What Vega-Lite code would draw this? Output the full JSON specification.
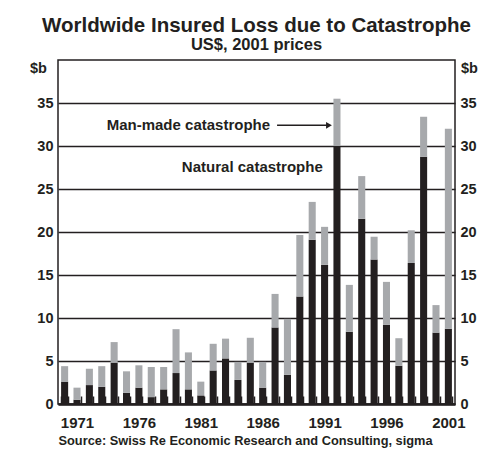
{
  "$schema": "https://vega.github.io/schema/vega-lite/v6.json",
  "autosize": {"type": "none"},
  "width": 397,
  "height": 344,
  "padding": {"left": 58, "top": 60, "right": 44, "bottom": 47},
  "background": "white",
  "title": {
    "text": "Worldwide Insured Loss due to Catastrophe",
    "subtitle": "US$, 2001 prices",
    "font": "Liberation Sans",
    "subtitleFont": "Liberation Sans",
    "fontSize": 20.5,
    "subtitleFontSize": 16.5,
    "fontWeight": "bold",
    "subtitleFontWeight": "bold",
    "color": "#231f20",
    "subtitleColor": "#231f20",
    "anchor": "middle",
    "offset": 7,
    "subtitlePadding": 0
  },
  "config": {
    "font": "Liberation Sans",
    "view": {"stroke": "#231f20", "strokeWidth": 1.5},
    "axisX": {
      "labelAngle": 0,
      "labelExpr": "(datum.value - 1971) % 5 == 0 ? datum.label : ''",
      "labelOverlap": false,
      "labelFontSize": 15,
      "labelFontWeight": "bold",
      "labelColor": "#231f20",
      "labelPadding": 19,
      "tickBand": "extent",
      "tickSize": -8,
      "tickColor": "#231f20",
      "tickWidth": 1.5,
      "domainColor": "#231f20",
      "domainWidth": 2.5,
      "titleAnchor": "start",
      "titleFontSize": 12.8,
      "titleFontWeight": "bold",
      "titleColor": "#231f20",
      "titlePadding": 4
    }
  },
  "datasets": {
    "losses": [
      {"year": 1970, "type": "Natural", "loss": 2.6}, {"year": 1970, "type": "Man-made", "loss": 1.8},
      {"year": 1971, "type": "Natural", "loss": 0.5}, {"year": 1971, "type": "Man-made", "loss": 1.4},
      {"year": 1972, "type": "Natural", "loss": 2.2}, {"year": 1972, "type": "Man-made", "loss": 1.9},
      {"year": 1973, "type": "Natural", "loss": 2.0}, {"year": 1973, "type": "Man-made", "loss": 2.4},
      {"year": 1974, "type": "Natural", "loss": 4.8}, {"year": 1974, "type": "Man-made", "loss": 2.4},
      {"year": 1975, "type": "Natural", "loss": 1.3}, {"year": 1975, "type": "Man-made", "loss": 2.5},
      {"year": 1976, "type": "Natural", "loss": 1.9}, {"year": 1976, "type": "Man-made", "loss": 2.6},
      {"year": 1977, "type": "Natural", "loss": 0.8}, {"year": 1977, "type": "Man-made", "loss": 3.5},
      {"year": 1978, "type": "Natural", "loss": 1.7}, {"year": 1978, "type": "Man-made", "loss": 2.6},
      {"year": 1979, "type": "Natural", "loss": 3.6}, {"year": 1979, "type": "Man-made", "loss": 5.1},
      {"year": 1980, "type": "Natural", "loss": 1.7}, {"year": 1980, "type": "Man-made", "loss": 4.3},
      {"year": 1981, "type": "Natural", "loss": 1.0}, {"year": 1981, "type": "Man-made", "loss": 1.6},
      {"year": 1982, "type": "Natural", "loss": 3.9}, {"year": 1982, "type": "Man-made", "loss": 3.1},
      {"year": 1983, "type": "Natural", "loss": 5.3}, {"year": 1983, "type": "Man-made", "loss": 2.3},
      {"year": 1984, "type": "Natural", "loss": 2.8}, {"year": 1984, "type": "Man-made", "loss": 2.1},
      {"year": 1985, "type": "Natural", "loss": 4.8}, {"year": 1985, "type": "Man-made", "loss": 2.9},
      {"year": 1986, "type": "Natural", "loss": 1.9}, {"year": 1986, "type": "Man-made", "loss": 3.0},
      {"year": 1987, "type": "Natural", "loss": 8.9}, {"year": 1987, "type": "Man-made", "loss": 3.9},
      {"year": 1988, "type": "Natural", "loss": 3.4}, {"year": 1988, "type": "Man-made", "loss": 6.5},
      {"year": 1989, "type": "Natural", "loss": 12.5}, {"year": 1989, "type": "Man-made", "loss": 7.15},
      {"year": 1990, "type": "Natural", "loss": 19.1}, {"year": 1990, "type": "Man-made", "loss": 4.4},
      {"year": 1991, "type": "Natural", "loss": 16.2}, {"year": 1991, "type": "Man-made", "loss": 4.4},
      {"year": 1992, "type": "Natural", "loss": 30.0}, {"year": 1992, "type": "Man-made", "loss": 5.5},
      {"year": 1993, "type": "Natural", "loss": 8.4}, {"year": 1993, "type": "Man-made", "loss": 5.45},
      {"year": 1994, "type": "Natural", "loss": 21.55}, {"year": 1994, "type": "Man-made", "loss": 4.95},
      {"year": 1995, "type": "Natural", "loss": 16.8}, {"year": 1995, "type": "Man-made", "loss": 2.65},
      {"year": 1996, "type": "Natural", "loss": 9.2}, {"year": 1996, "type": "Man-made", "loss": 5.0},
      {"year": 1997, "type": "Natural", "loss": 4.45}, {"year": 1997, "type": "Man-made", "loss": 3.2},
      {"year": 1998, "type": "Natural", "loss": 16.4}, {"year": 1998, "type": "Man-made", "loss": 3.8},
      {"year": 1999, "type": "Natural", "loss": 28.75}, {"year": 1999, "type": "Man-made", "loss": 4.65},
      {"year": 2000, "type": "Natural", "loss": 8.3}, {"year": 2000, "type": "Man-made", "loss": 3.2},
      {"year": 2001, "type": "Natural", "loss": 8.75}, {"year": 2001, "type": "Man-made", "loss": 23.25}
    ]
  },
  "layer": [
    {
      "data": {"name": "losses"},
      "mark": {"type": "bar"},
      "encoding": {
        "x": {"field": "year", "type": "ordinal", "title": "Source: Swiss Re Economic Research and Consulting, sigma", "scale": {"paddingInner": 0.43, "paddingOuter": 0.25}},
        "y": {
          "field": "loss", "type": "quantitative", "stack": "zero",
          "scale": {"domain": [0, 40], "nice": false},
          "axis": {
            "orient": "left",
            "values": [0, 5, 10, 15, 20, 25, 30, 35],
            "title": "$b", "titleAngle": 0, "titleX": -20, "titleY": 12,
            "titleAlign": "center", "titleBaseline": "alphabetic",
            "titleFontSize": 14.5, "titleFontWeight": "bold", "titleColor": "#231f20",
            "labelFontSize": 14.5, "labelFontWeight": "bold", "labelColor": "#231f20",
            "labelPadding": 5, "ticks": false, "domain": false,
            "grid": true, "gridColor": "#231f20", "gridWidth": 1.5
          }
        },
        "color": {"field": "type", "type": "nominal", "scale": {"domain": ["Natural", "Man-made"], "range": ["#231f20", "#a7a9ac"]}, "legend": null},
        "order": {"field": "type", "sort": "descending"}
      }
    },
    {
      "data": {"values": [{"year": 1985, "loss": 27.6, "label": "Natural catastrophe"}]},
      "mark": {"type": "text", "align": "center", "baseline": "middle", "fontSize": 15, "fontWeight": "bold", "color": "#231f20", "dx": 2},
      "encoding": {
        "x": {"field": "year", "type": "ordinal", "title": "Source: Swiss Re Economic Research and Consulting, sigma"},
        "y": {
          "field": "loss", "type": "quantitative",
          "axis": {
            "orient": "right",
            "values": [0, 5, 10, 15, 20, 25, 30, 35],
            "title": "$b", "titleAngle": 0, "titleX": 14, "titleY": 12,
            "titleAlign": "center", "titleBaseline": "alphabetic",
            "titleFontSize": 14.5, "titleFontWeight": "bold", "titleColor": "#231f20",
            "labelFontSize": 14.5, "labelFontWeight": "bold", "labelColor": "#231f20",
            "labelPadding": 5, "ticks": false, "domain": false, "grid": false
          }
        },
        "text": {"field": "label"}
      }
    },
    {
      "data": {"values": [{"year": 1987, "loss": 32.4, "label": "Man-made catastrophe"}]},
      "mark": {"type": "text", "align": "right", "baseline": "middle", "fontSize": 15, "fontWeight": "bold", "color": "#231f20", "dx": -5},
      "encoding": {
        "x": {"field": "year", "type": "ordinal", "title": "Source: Swiss Re Economic Research and Consulting, sigma"},
        "y": {"field": "loss", "type": "quantitative", "axis": null},
        "text": {"field": "label"}
      }
    },
    {
      "data": {"values": [{"year": 1987, "year2": 1992, "loss": 32.4}]},
      "mark": {"type": "rule", "color": "#231f20", "strokeWidth": 1.5, "xOffset": 2, "x2Offset": -10},
      "encoding": {
        "x": {"field": "year", "type": "ordinal", "title": "Source: Swiss Re Economic Research and Consulting, sigma"},
        "x2": {"field": "year2"},
        "y": {"field": "loss", "type": "quantitative", "axis": null}
      }
    },
    {
      "data": {"values": [{"year": 1992, "loss": 32.4}]},
      "mark": {"type": "point", "shape": "triangle-right", "filled": true, "opacity": 1, "size": 45, "color": "#231f20", "xOffset": -8},
      "encoding": {
        "x": {"field": "year", "type": "ordinal", "title": "Source: Swiss Re Economic Research and Consulting, sigma"},
        "y": {"field": "loss", "type": "quantitative", "axis": null}
      }
    }
  ],
  "resolve": {"axis": {"y": "independent"}}
}
